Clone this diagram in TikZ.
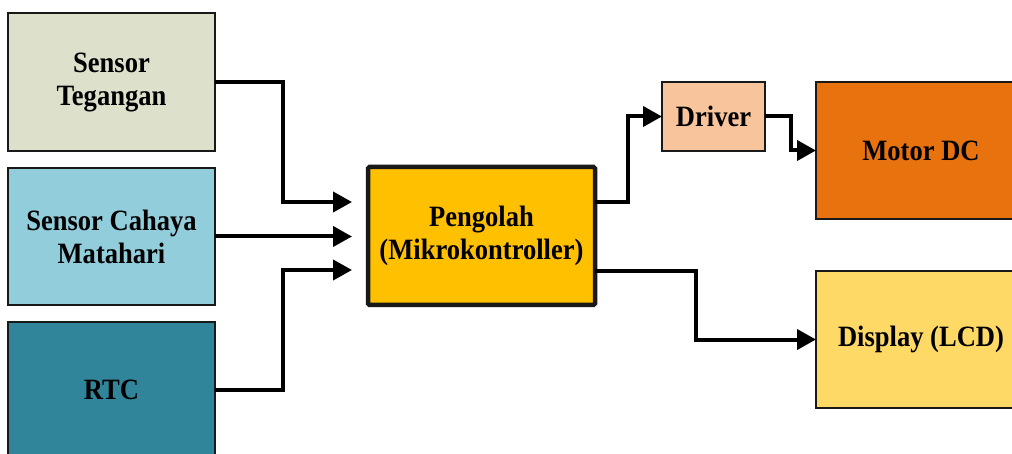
\documentclass[tikz,border=0pt]{standalone}
\usepackage{fontspec}
\setmainfont{Liberation Serif}
\newfontfamily\lblfont[FakeStretch=0.9]{Liberation Serif}
\usetikzlibrary{arrows.meta,calc}
\definecolor{cTeg}{RGB}{221,224,203}
\definecolor{cCah}{RGB}{146,205,220}
\definecolor{cRtc}{RGB}{49,133,155}
\definecolor{cPen}{RGB}{255,192,0}
\definecolor{cDrv}{RGB}{248,196,156}
\definecolor{cMot}{RGB}{232,114,14}
\definecolor{cDis}{RGB}{255,217,102}
\tikzset{
  blk/.style={draw=black!90, line width=1.3pt, inner sep=0pt, outer sep=0pt, align=center,
    font=\lblfont\fontsize{29.5}{33}\selectfont\bfseries},
  main/.style={blk, line width=4.5pt, rounded corners=1.5pt},
  arr/.style={line width=4pt, -{Triangle[length=19pt,width=20pt]}},
}
\begin{document}
\begin{tikzpicture}[x=1pt,y=-1pt]
\useasboundingbox (0,0) rectangle (1012,454);
\clip (0,0) rectangle (1012,454);
\fill[white] (0,0) rectangle (1012,454);
\node[blk, fill=cTeg, minimum width=207pt, minimum height=138pt] (st) at (111.5,82) {Sensor\\Tegangan};
\node[blk, fill=cCah, minimum width=207pt, minimum height=137pt] (sc) at (111.5,236.5) {Sensor Cahaya\\Matahari};
\node[blk, fill=cRtc, minimum width=207pt, minimum height=136pt] (rtc) at (111.5,390) {RTC};
\node[main, fill=cPen, minimum width=227pt, minimum height=138pt] (p) at (481.5,236) {Pengolah\\(Mikrokontroller)};
\node[blk, fill=cDrv, minimum width=103pt, minimum height=69pt] (drv) at (713.5,116.5) {Driver};
\node[blk, fill=cMot, minimum width=210pt, minimum height=137pt] (mot) at (921,150.5) {Motor DC};
\node[blk, fill=cDis, minimum width=210pt, minimum height=137pt] (dis) at (921,339.5) {Display (LCD)};
\draw[arr] (st.east) -| ([xshift=-85pt,yshift=34pt]p.west) -- ([xshift=-16pt,yshift=34pt]p.west);
\draw[arr] (sc.east) -- ([xshift=-16pt]p.west |- sc.east);
\draw[arr] (rtc.east) -| ([xshift=-85pt,yshift=-34pt]p.west) -- ([xshift=-16pt,yshift=-34pt]p.west);
\draw[arr] ([yshift=34pt]p.east) -| ([xshift=-34pt]drv.west) -- (drv.west);
\draw[arr] (drv.east) -| ([xshift=-25pt]mot.west) -- (mot.west);
\draw[arr] ([yshift=-35pt]p.east) -| ([xshift=-120pt]dis.west) -- (dis.west);
\end{tikzpicture}
\end{document}
